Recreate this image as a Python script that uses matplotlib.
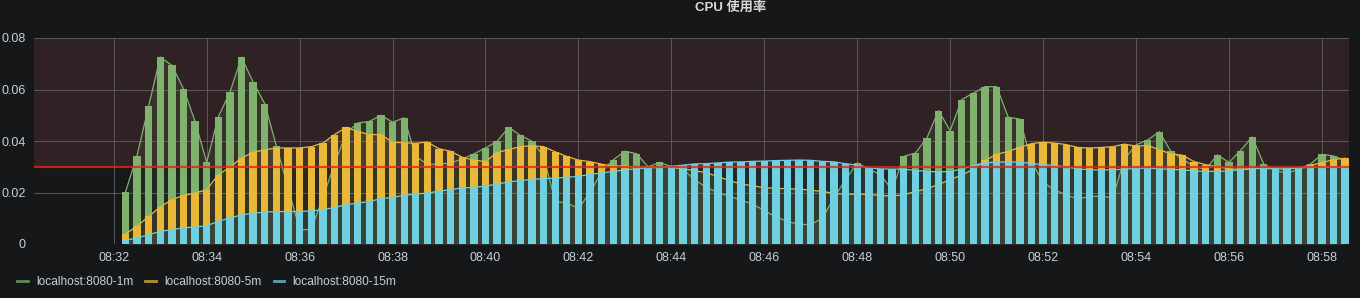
import matplotlib
matplotlib.use("Agg")
import matplotlib.pyplot as plt
import matplotlib.dates as mdates
from matplotlib.lines import Line2D
import numpy as np
import pandas as pd

plt.rcParams['font.family'] = ['Liberation Sans', 'Noto Sans CJK SC', 'DejaVu Sans']

# 15 s samples, 08:32:15 .. 08:58:30
times = pd.date_range('2019-01-01 08:32:15', periods=106, freq='15s')

load_1m = [
    0.0201, 0.0343, 0.0535, 0.0726, 0.0694, 0.0603, 0.0476, 0.0317, 0.0494, 0.0589,
    0.0725, 0.0628, 0.0545, 0.0380, 0.0220, 0.0056, 0.0056, 0.0180, 0.0310, 0.0430,
    0.0470, 0.0476, 0.0500, 0.0473, 0.0490, 0.0340, 0.0310, 0.0310, 0.0315, 0.0330,
    0.0350, 0.0373, 0.0399, 0.0453, 0.0422, 0.0399, 0.0340, 0.0165, 0.0160, 0.0138,
    0.0200, 0.0280, 0.0327, 0.0360, 0.0351, 0.0300, 0.0317, 0.0300, 0.0290, 0.0250,
    0.0220, 0.0200, 0.0185, 0.0170, 0.0155, 0.0130, 0.0105, 0.0088, 0.0076, 0.0076,
    0.0100, 0.0180, 0.0250, 0.0315, 0.0290, 0.0270, 0.0210, 0.0340, 0.0353, 0.0412,
    0.0518, 0.0440, 0.0561, 0.0586, 0.0611, 0.0611, 0.0492, 0.0485, 0.0320, 0.0240,
    0.0210, 0.0190, 0.0175, 0.0185, 0.0185, 0.0180, 0.0330, 0.0385, 0.0404, 0.0436,
    0.0360, 0.0330, 0.0300, 0.0290, 0.0346, 0.0317, 0.0363, 0.0416, 0.0310, 0.0285,
    0.0275, 0.0290, 0.0310, 0.0348, 0.0342, 0.0325,
]
load_5m = [
    0.0039, 0.0069, 0.0107, 0.0144, 0.0172, 0.0189, 0.0198, 0.0211, 0.0269, 0.0298,
    0.0334, 0.0356, 0.0366, 0.0373, 0.0373, 0.0373, 0.0378, 0.0392, 0.0425, 0.0453,
    0.0437, 0.0425, 0.0425, 0.0395, 0.0393, 0.0391, 0.0396, 0.0370, 0.0360, 0.0337,
    0.0326, 0.0320, 0.0355, 0.0367, 0.0378, 0.0382, 0.0378, 0.0358, 0.0340, 0.0326,
    0.0320, 0.0310, 0.0303, 0.0303, 0.0298, 0.0300, 0.0300, 0.0298, 0.0292, 0.0285,
    0.0277, 0.0262, 0.0246, 0.0233, 0.0226, 0.0219, 0.0216, 0.0215, 0.0213, 0.0209,
    0.0204, 0.0197, 0.0193, 0.0194, 0.0192, 0.0189, 0.0186, 0.0192, 0.0203, 0.0215,
    0.0231, 0.0250, 0.0268, 0.0290, 0.0325, 0.0348, 0.0360, 0.0375, 0.0390, 0.0395,
    0.0392, 0.0386, 0.0375, 0.0373, 0.0375, 0.0378, 0.0388, 0.0380, 0.0383, 0.0366,
    0.0350, 0.0345, 0.0320, 0.0308, 0.0300, 0.0292, 0.0290, 0.0293, 0.0293, 0.0292,
    0.0290, 0.0296, 0.0305, 0.0316, 0.0328, 0.0333,
]
load_15m = [
    0.0014, 0.0024, 0.0036, 0.0049, 0.0056, 0.0063, 0.0066, 0.0071, 0.0088, 0.0101,
    0.0113, 0.0120, 0.0124, 0.0126, 0.0126, 0.0126, 0.0129, 0.0133, 0.0142, 0.0152,
    0.0159, 0.0165, 0.0176, 0.0181, 0.0189, 0.0194, 0.0198, 0.0205, 0.0211, 0.0218,
    0.0220, 0.0225, 0.0233, 0.0241, 0.0246, 0.0251, 0.0254, 0.0256, 0.0259, 0.0263,
    0.0270, 0.0276, 0.0282, 0.0288, 0.0292, 0.0295, 0.0298, 0.0302, 0.0306, 0.0311,
    0.0312, 0.0315, 0.0318, 0.0319, 0.0321, 0.0322, 0.0324, 0.0325, 0.0326, 0.0325,
    0.0321, 0.0319, 0.0312, 0.0306, 0.0295, 0.0292, 0.0291, 0.0291, 0.0286, 0.0282,
    0.0280, 0.0282, 0.0291, 0.0305, 0.0315, 0.0318, 0.0319, 0.0318, 0.0313, 0.0308,
    0.0305, 0.0299, 0.0292, 0.0288, 0.0288, 0.0288, 0.0291, 0.0293, 0.0295, 0.0292,
    0.0290, 0.0288, 0.0284, 0.0282, 0.0282, 0.0284, 0.0288, 0.0292, 0.0295, 0.0295,
    0.0295, 0.0295, 0.0298, 0.0298, 0.0298, 0.0298,
]

series = [
    ('localhost:8080-1m', load_1m, '#7eb26d'),
    ('localhost:8080-5m', load_5m, '#eab839'),
    ('localhost:8080-15m', load_15m, '#6ed0e0'),
]
threshold = 0.03
y_ticks = [0, 0.02, 0.04, 0.06, 0.08]
y_labels = ['0', '0.02', '0.04', '0.06', '0.08']

bg = '#161719'
fig = plt.figure(figsize=(13.6, 2.98), dpi=100, facecolor=bg)
ax = fig.add_axes([34 / 1360, 1 - 244 / 298, (1349 - 34) / 1360, 206 / 298])
ax.set_facecolor(bg)

x = mdates.date2num(times)
width = 9.5 / 86400

for k, (name, vals, col) in enumerate(series):
    z = 2 + k * 3
    ax.bar(x, vals, width=width, color=col, zorder=z, linewidth=0)
    ax.plot(x, vals, color=col, lw=0.9, zorder=z + 1)
    ax.fill_between(x, 0, vals, color=col, alpha=0.1, lw=0, zorder=1.5)

ax.axhspan(threshold, 0.08, color='#302224', lw=0, zorder=0.2)
ax.axhline(threshold, color=(220 / 255, 40 / 255, 24 / 255, 0.8), lw=1.6, zorder=12)

ax.set_ylim(0, 0.08)
ax.set_xlim(mdates.date2num(pd.Timestamp('2019-01-01 08:30:17')),
            mdates.date2num(pd.Timestamp('2019-01-01 08:58:35')))
ax.set_yticks(y_ticks)
ax.set_yticklabels(y_labels)
xt = pd.date_range('2019-01-01 08:32', '2019-01-01 08:58', freq='2min')
ax.set_xticks(mdates.date2num(xt))
ax.xaxis.set_major_formatter(mdates.DateFormatter('%H:%M'))

ax.set_axisbelow(True)
ax.grid(True, color='#606064', lw=0.6)
for s in ax.spines.values():
    s.set_visible(False)
ax.tick_params(length=0, colors='#c7d0d9', labelsize=9, pad=6)

fig.text(731 / 1360, 1 - 8 / 298, 'CPU 使用率', ha='center', va='center',
         color='#d8d9da', fontsize=9.5, fontweight='bold')

handles = [Line2D([], [], color=c, lw=2, alpha=0.75) for _, _, c in series]
fig.legend(handles, [n for n, _, _ in series], loc='center left',
           bbox_to_anchor=(17 / 1360, 1 - 282 / 298), frameon=False, ncol=3,
           fontsize=8.6, labelcolor='#c7d0d9', handlelength=0.9,
           handletextpad=0.7, columnspacing=1.0, borderpad=0, borderaxespad=0)

fig.savefig('out.png', dpi=100, facecolor=bg)
